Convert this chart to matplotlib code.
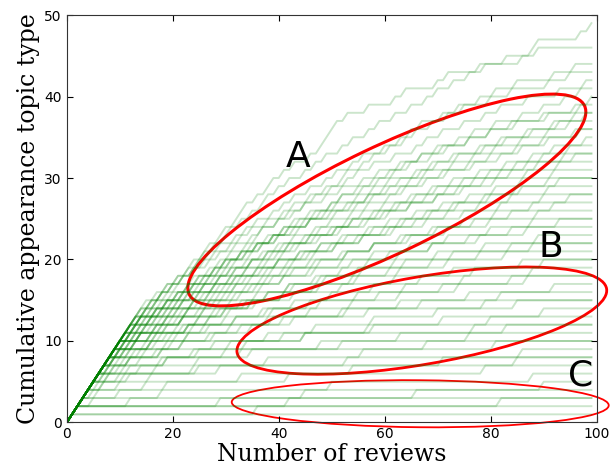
import numpy as np
import matplotlib
matplotlib.use('Agg')
import matplotlib.pyplot as plt
from matplotlib.patches import Ellipse
from matplotlib.transforms import ScaledTranslation

reviews = np.arange(100)

# number of opening reviews in a row that each topic type shows up in
first_run = [10, 12, 13, 9, 14, 11, 15, 8, 12, 10,
             13, 9, 14, 11, 7, 12, 10, 13, 8, 11,
             6, 10, 12, 7, 9, 11, 8, 5, 10, 7,
             9, 6, 8, 5, 10, 7, 4, 9, 6, 8,
             3, 10, 5, 7, 4, 9, 6, 3, 8, 5,
             2, 6, 4, 3, 2, 2, 1, 2, 1, 2]

# later reviews in which the same topic type appears again
later_hits = [
    [12, 13, 14, 16, 17, 19, 20, 22, 23, 24, 26, 27, 29, 30, 32, 33, 34, 36, 38, 39,
     41, 43, 46, 48, 49, 50, 51, 53, 57, 62, 64, 70, 72, 78, 86, 88, 89, 97, 99],
    [14, 15, 17, 18, 20, 21, 23, 25, 26, 28, 30, 31, 33, 35, 37, 38, 40, 42, 45, 47,
     49, 52, 54, 57, 59, 62, 65, 68, 70, 73, 76, 79, 83, 89],
    [15, 16, 18, 20, 21, 24, 26, 27, 29, 32, 34, 36, 39, 41, 43, 46, 49, 51, 54, 56,
     60, 63, 65, 67, 71, 74, 78, 81, 85, 92, 96],
    [11, 12, 14, 16, 17, 19, 22, 23, 25, 28, 30, 31, 34, 36, 37, 40, 42, 45, 46, 49,
     52, 53, 56, 58, 61, 64, 66, 69, 72, 75, 80, 84, 91, 95],
    [16, 18, 19, 22, 24, 25, 28, 31, 33, 35, 38, 41, 43, 47, 50, 53, 55, 58, 62, 66,
     68, 71, 75, 79, 82, 87, 93, 98],
    [13, 14, 17, 19, 21, 24, 26, 29, 30, 33, 35, 39, 41, 44, 46, 50, 52, 56, 59, 61,
     64, 67, 70, 74, 77, 81, 86, 90, 94, 97],
    [17, 19, 22, 24, 27, 29, 32, 35, 37, 40, 43, 45, 49, 52, 56, 59, 63, 67, 72, 76,
     80, 84, 90, 96, 99],
    [10, 11, 13, 15, 16, 18, 21, 23, 24, 27, 29, 31, 34, 36, 38, 41, 43, 47, 50, 52,
     55, 58, 62, 65, 69, 71, 76, 80, 85, 91, 97],
    [14, 16, 19, 21, 23, 26, 28, 31, 34, 36, 39, 42, 45, 48, 51, 55, 58, 61, 66, 69,
     73, 78, 82, 87, 92, 98],
    [12, 13, 15, 18, 20, 22, 25, 27, 30, 32, 35, 37, 40, 44, 46, 49, 53, 57, 60, 63,
     67, 70, 74, 79, 83, 88, 93, 96],
    [15, 17, 20, 23, 25, 28, 30, 33, 37, 40, 42, 46, 50, 54, 57, 61, 65, 68, 73, 77,
     81, 86, 91, 95],
    [11, 13, 14, 17, 19, 22, 24, 26, 29, 32, 34, 37, 40, 43, 47, 50, 54, 57, 61, 64,
     68, 72, 77, 82, 86, 90, 97],
    [16, 18, 21, 24, 27, 29, 33, 36, 39, 43, 46, 51, 55, 58, 63, 67, 71, 76, 80, 85,
     91, 96],
    [13, 15, 18, 20, 23, 26, 29, 31, 35, 38, 41, 45, 48, 53, 56, 60, 65, 69, 73, 78,
     83, 88, 92, 98],
    [9, 10, 12, 14, 16, 19, 21, 24, 26, 28, 31, 34, 37, 40, 43, 47, 51, 54, 58, 62,
     66, 70, 75, 80, 85, 90, 95],
    [14, 17, 19, 22, 26, 29, 32, 35, 39, 42, 46, 50, 54, 59, 63, 68, 72, 77, 82, 87, 94],
    [12, 14, 17, 20, 22, 25, 28, 31, 34, 38, 41, 44, 48, 52, 57, 61, 65, 70, 74, 79,
     84, 89, 96],
    [15, 18, 21, 24, 28, 31, 35, 38, 42, 46, 51, 56, 60, 65, 70, 75, 81, 87, 93],
    [10, 12, 14, 17, 19, 22, 25, 27, 30, 33, 37, 40, 44, 48, 52, 57, 61, 66, 71, 76,
     81, 86, 92],
    [13, 16, 19, 22, 25, 29, 32, 36, 40, 44, 48, 53, 58, 63, 68, 73, 79, 85, 91],
    [8, 9, 11, 13, 16, 18, 21, 23, 26, 29, 32, 35, 39, 43, 47, 51, 55, 60, 64, 69,
     74, 80, 86, 93],
    [12, 15, 18, 21, 24, 27, 31, 34, 38, 42, 46, 51, 56, 61, 66, 72, 78, 84, 91],
    [14, 17, 21, 24, 28, 32, 36, 40, 45, 50, 56, 62, 68, 75, 82, 90],
    [9, 11, 13, 16, 19, 22, 25, 28, 32, 35, 39, 43, 48, 53, 58, 63, 69, 75, 81, 88, 95],
    [11, 14, 17, 20, 23, 27, 30, 34, 38, 42, 47, 53, 58, 64, 70, 77, 84, 92],
    [13, 16, 20, 24, 28, 32, 37, 41, 46, 52, 58, 65, 72, 80, 89],
    [10, 13, 16, 19, 22, 26, 29, 33, 37, 41, 46, 52, 58, 65, 72, 80, 88],
    [7, 9, 12, 14, 17, 20, 23, 27, 30, 34, 38, 42, 47, 52, 57, 63, 69, 76, 84, 93],
    [12, 15, 19, 23, 27, 31, 36, 41, 47, 54, 61, 69, 78, 87],
    [9, 12, 15, 18, 22, 25, 29, 33, 38, 43, 49, 55, 62, 70, 79, 89],
    [11, 14, 18, 22, 26, 31, 36, 42, 48, 56, 64, 73, 84],
    [8, 10, 13, 16, 19, 23, 27, 31, 36, 41, 47, 54, 61, 69, 78, 88],
    [10, 13, 17, 21, 25, 30, 35, 41, 48, 55, 63, 72, 83],
    [7, 9, 12, 15, 19, 23, 27, 32, 37, 43, 50, 58, 67, 77, 90],
    [13, 17, 22, 28, 35, 43, 52, 62, 73, 86],
    [9, 12, 16, 21, 26, 32, 39, 46, 55, 64, 75, 88],
    [6, 8, 11, 14, 18, 22, 27, 33, 39, 46, 54, 63, 74, 87],
    [12, 17, 23, 30, 38, 48, 59, 71, 84],
    [8, 12, 17, 22, 28, 35, 43, 52, 63, 76, 92],
    [11, 16, 23, 31, 41, 53, 67, 82],
    [5, 7, 10, 14, 19, 24, 31, 38, 47, 58, 70, 85],
    [14, 24, 38, 57, 79],
    [8, 12, 18, 25, 34, 45, 57, 71, 90],
    [11, 18, 28, 41, 58, 80],
    [7, 11, 17, 25, 35, 48, 63, 83],
    [20, 45, 77],
    [10, 19, 33, 52, 76],
    [6, 10, 16, 25, 38, 56, 81],
    [30, 68],
    [12, 29, 53, 86],
    [5, 10, 19, 33, 54, 85],
    [24, 71],
    [15, 42, 79],
    [18, 50, 88],
    [12, 45, 90],
    [29, 66],
    [36, 82],
    [],
    [],
    [42],
]

group_names = ['A', 'B', 'C']

fig = plt.figure(figsize=(6.16, 4.72), dpi=100)
ax = fig.add_axes([0.1083, 0.1049, 0.8604, 0.8633])

for run, hits in zip(first_run, later_hits):
    counts = np.minimum(reviews, run) + np.searchsorted(hits, reviews, side='right')
    ax.plot(reviews, counts, color='green', alpha=0.2, lw=1.4)

# rings around the three groups of topics (size in inches, centre in data units)
rings = [((60.4, 27.3), 4.38, 1.07, 25.5, 2.2),
         ((67.0, 12.5), 3.75, 0.875, 9.8, 2.0),
         ((66.7, 2.3), 3.77, 0.47, -0.5, 1.3)]
for (cx, cy), w, h, ang, lw in rings:
    ring = Ellipse((0, 0), w, h, angle=ang, fill=False, ec='red', lw=lw,
                   transform=fig.dpi_scale_trans + ScaledTranslation(cx, cy, ax.transData),
                   clip_on=False)
    ax.add_patch(ring)

for name, (tx, ty) in zip(group_names, [(43.6, 32.6), (91.4, 21.5), (96.9, 5.8)]):
    ax.text(tx, ty, name, fontsize=26, ha='center', va='center')

ax.set_xlim(0, 100)
ax.set_ylim(0, 50)
ax.tick_params(direction='in', top=True, right=True, length=4, labelsize=10)
for side in ax.spines.values():
    side.set_color('#333333')
ax.set_xlabel('Number of reviews', family='DejaVu Serif', fontsize=17, labelpad=1)
ax.set_ylabel('Cumulative appearance topic type', family='DejaVu Serif', fontsize=17, labelpad=3)

fig.savefig('out.png', dpi=100)
